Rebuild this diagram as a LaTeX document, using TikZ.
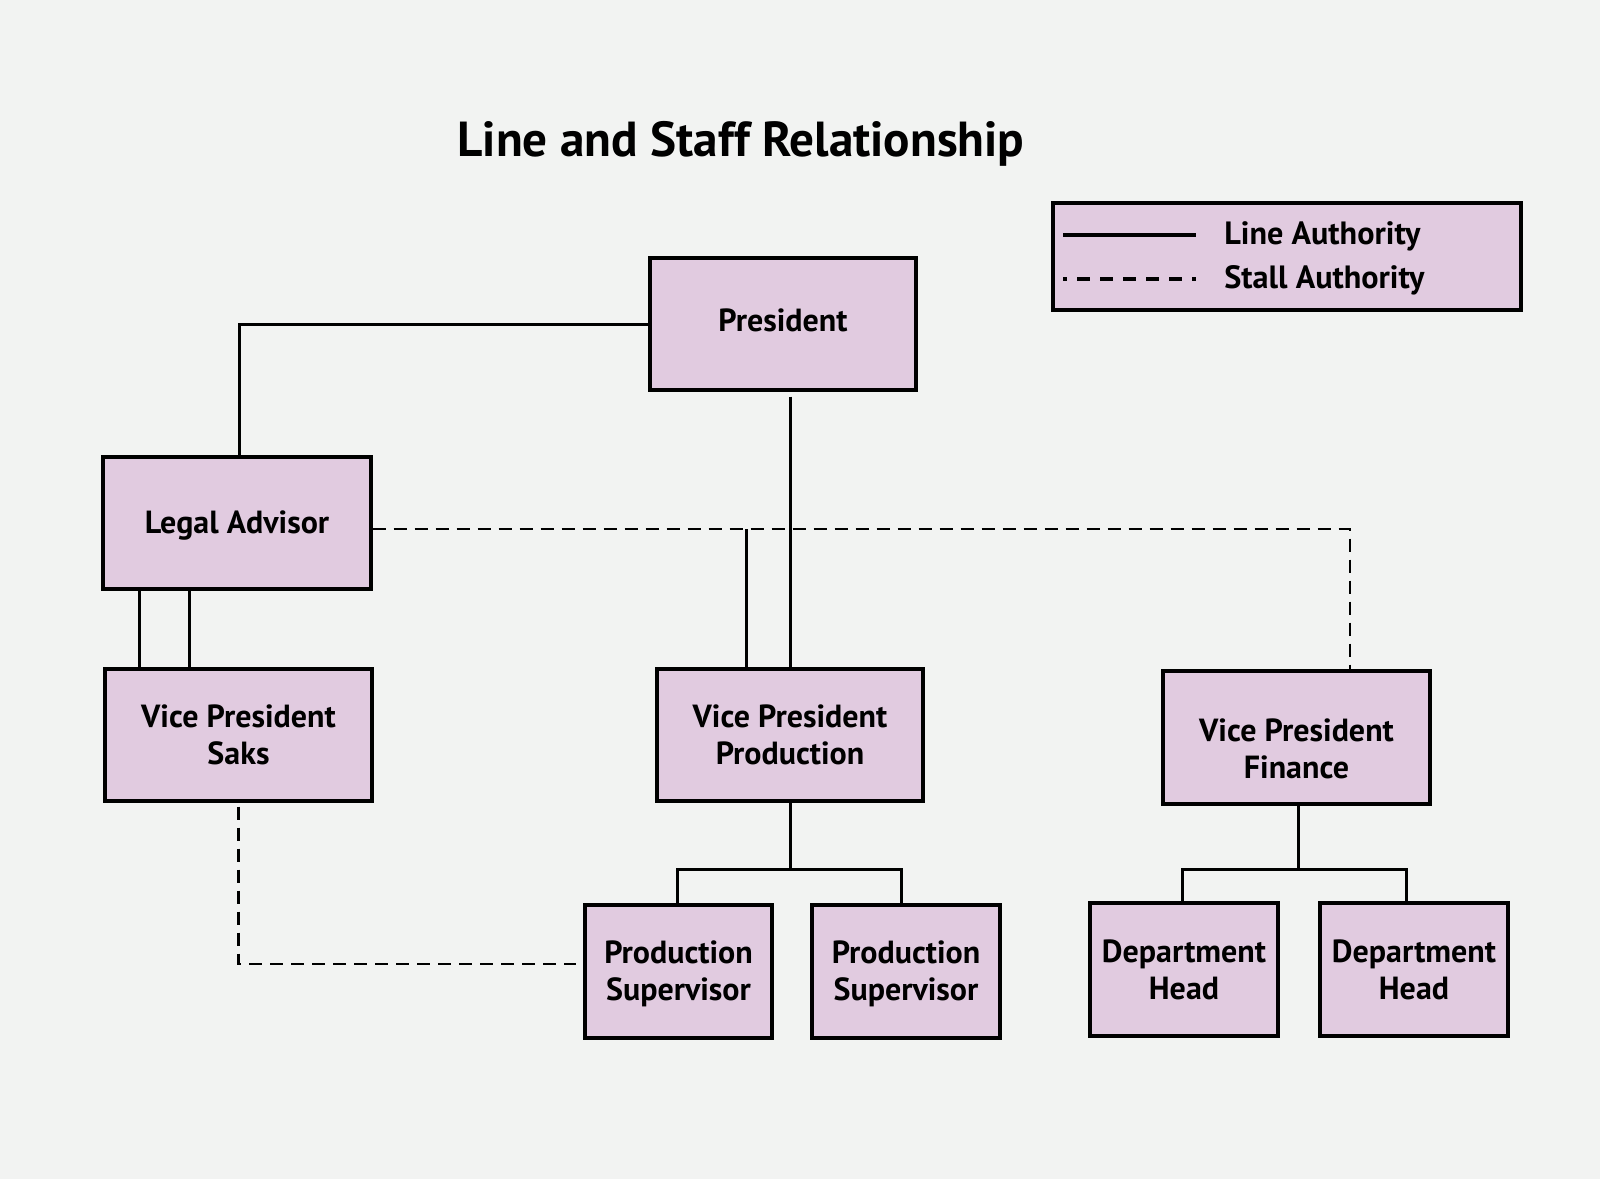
\documentclass[tikz,border=0pt]{standalone}
\usepackage{fontspec}
\setmainfont{PT Sans}
\definecolor{bgc}{HTML}{F2F3F2}
\definecolor{boxc}{HTML}{E1CBE0}
\tikzset{
  orgbox/.style={draw=black, fill=boxc, line width=1.6pt, align=center, inner sep=0pt,
    font=\bfseries\fontsize{16}{18.5}\selectfont},
  lineauth/.style={draw=black, line width=1.5pt},
  staffauth/.style={draw=black, line width=1.45pt, dash pattern=on 6.5pt off 4pt},
}
\begin{document}
\begin{tikzpicture}[x=0.5pt, y=-0.5pt]
\fill[bgc] (0,0) rectangle (1600,1179);
\useasboundingbox (0,0) rectangle (1600,1179);

\node[font=\bfseries\fontsize{24.6}{29}\selectfont, anchor=base] (title) at (741,156) {Line and Staff Relationship};

% legend
\node[orgbox, minimum width=234pt, minimum height=53.5pt] (legend) at (1287,256.5) {};
\coordinate (l1a) at (1063,235); \coordinate (l1b) at (1196,235);
\coordinate (l2a) at (1063,279); \coordinate (l2b) at (1196,279);
\draw[line width=2pt] (l1a) -- (l1b);
\draw[line width=2pt, dash pattern=on 6.5pt off 5pt, dash phase=4.5pt] (l2a) -- (l2b);
\node[anchor=base west, font=\bfseries\fontsize{16.1}{18.5}\selectfont, inner sep=0pt] (lt1) at (1224,244) {Line Authority};
\node[anchor=base west, font=\bfseries\fontsize{16.1}{18.5}\selectfont, inner sep=0pt] (lt2) at (1224,288) {Stall Authority};

% boxes
\node[orgbox, minimum width=133pt, minimum height=66pt] (pres) at (783,324) {\raisebox{3.5pt}{President}};
\node[orgbox, minimum width=134pt, minimum height=66pt] (legal) at (237,523) {\rule{0pt}{13.5pt}Legal Advisor};
\node[orgbox, minimum width=133.5pt, minimum height=66pt] (vps) at (238.5,735) {Vice President\\Saks};
\node[orgbox, minimum width=133pt, minimum height=66pt] (vpp) at (790,735) {Vice President\\Production};
\node[orgbox, minimum width=133.5pt, minimum height=66.5pt] (vpf) at (1296.5,737.5) {\rule{0pt}{22.5pt}Vice President\\Finance};
\node[orgbox, minimum width=93.5pt, minimum height=66.5pt] (ps1) at (678.5,971.5) {\rule{0pt}{14pt}Production\\Supervisor};
\node[orgbox, minimum width=94pt, minimum height=66.5pt] (ps2) at (906,971.5) {\rule{0pt}{14pt}Production\\Supervisor};
\node[orgbox, minimum width=94pt, minimum height=66.5pt] (dh1) at (1184,969.5) {Department\\Head};
\node[orgbox, minimum width=94pt, minimum height=66.5pt] (dh2) at (1414,969.5) {Department\\Head};

% line authority
\draw[lineauth] (pres.west) -| ([xshift=1pt]legal.north);
\draw[lineauth] ([yshift=-2.5pt]pres.south -| vpp.north) -- (vpp.north);
\coordinate (dj) at (746,529);
\draw[lineauth] (dj) -- (dj |- vpp.north);
\draw[lineauth] ([xshift=-49pt]legal.south) -- ([xshift=-49.75pt,yshift=-1pt]vps.north);
\draw[lineauth] ([xshift=-24pt]legal.south) -- ([xshift=-24.75pt]vps.north);
\coordinate (pb) at (790,869);
\draw[lineauth] (vpp.south) -- (pb);
\draw[lineauth] ([xshift=-0.75pt]ps1.north) |- (pb) -| ([xshift=-2.5pt]ps2.north);
\coordinate (fb) at (1298,869);
\draw[lineauth] ([xshift=0.75pt]vpf.south) -- (fb);
\draw[lineauth] ([xshift=-1pt]dh1.north) |- (fb) -| ([xshift=-4pt]dh2.north);

% staff authority
\coordinate (sj) at (1350,529);
\draw[staffauth] (legal.east |- sj) -- (sj) -- (sj |- vpf.north);
\draw[staffauth] ([yshift=-2pt]vps.south) |- ([yshift=3.75pt,xshift=-3.5pt]ps1.west);
\end{tikzpicture}
\end{document}
